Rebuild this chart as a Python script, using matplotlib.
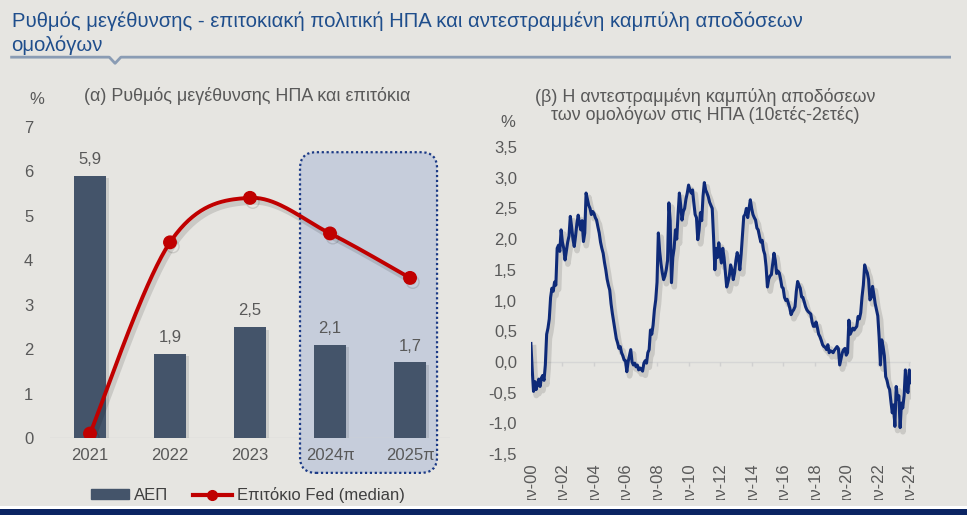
import numpy as np
import matplotlib
matplotlib.use("Agg")
import matplotlib.pyplot as plt
import matplotlib.patheffects as pe
from matplotlib.patches import FancyBboxPatch, Rectangle
from matplotlib.lines import Line2D
from matplotlib.ticker import FuncFormatter

plt.rcParams['font.family'] = ['Liberation Sans', 'DejaVu Sans']

# --- data: panel (a)
years = ["2021", "2022", "2023", "2024π", "2025π"]
gdp = [5.9, 1.9, 2.5, 2.1, 1.7]
fed_rate = [0.1, 4.4, 5.4, 4.6, 3.6]

# --- data: panel (b), monthly 10y-2y spread, Jan 2000 - Feb 2024
spread_2000 = [0.30, -0.12, -0.48, -0.32, -0.45, -0.36, -0.28, -0.40, -0.26, -0.22, -0.30, -0.05]
spread_2001 = [0.45, 0.55, 0.70, 1.05, 1.20, 1.15, 1.30, 1.25, 1.85, 1.90, 1.80, 2.15]
spread_2002 = [1.95, 1.85, 1.66, 1.80, 1.95, 2.05, 2.37, 2.20, 2.00, 1.88, 2.05, 2.25]
spread_2003 = [2.39, 2.25, 2.15, 2.30, 1.96, 2.10, 2.75, 2.65, 2.55, 2.50, 2.40, 2.45]
spread_2004 = [2.42, 2.35, 2.31, 2.20, 2.10, 1.95, 1.85, 1.77, 1.62, 1.50, 1.35, 1.25]
spread_2005 = [1.17, 0.95, 0.79, 0.65, 0.50, 0.38, 0.31, 0.22, 0.25, 0.15, 0.10, 0.03]
spread_2006 = [0.02, -0.16, 0.00, 0.10, 0.20, 0.00, -0.05, -0.02, -0.08, -0.05, -0.13, -0.10]
spread_2007 = [-0.12, -0.15, -0.02, 0.02, -0.02, 0.15, 0.20, 0.52, 0.45, 0.60, 0.85, 1.01]
spread_2008 = [1.30, 2.10, 1.80, 1.60, 1.45, 1.34, 1.40, 1.50, 1.65, 2.59, 2.30, 1.29]
spread_2009 = [1.70, 1.85, 2.15, 2.00, 2.40, 2.75, 2.55, 2.31, 2.45, 2.50, 2.65, 2.75]
spread_2010 = [2.88, 2.80, 2.75, 2.80, 2.59, 2.40, 2.35, 1.99, 2.15, 2.43, 2.30, 2.70]
spread_2011 = [2.92, 2.80, 2.75, 2.69, 2.60, 2.55, 2.50, 2.04, 1.50, 1.85, 1.70, 1.94]
spread_2012 = [1.75, 1.61, 1.85, 1.70, 1.45, 1.22, 1.30, 1.40, 1.58, 1.50, 1.34, 1.45]
spread_2013 = [1.65, 1.78, 1.70, 1.50, 1.75, 2.05, 2.37, 2.40, 2.50, 2.35, 2.50, 2.64]
spread_2014 = [2.50, 2.40, 2.35, 2.31, 2.18, 2.15, 2.04, 1.95, 1.98, 1.82, 1.75, 1.55]
spread_2015 = [1.22, 1.35, 1.40, 1.42, 1.60, 1.77, 1.65, 1.44, 1.48, 1.45, 1.35, 1.22]
spread_2016 = [1.20, 1.05, 1.00, 1.02, 0.95, 0.88, 0.77, 0.82, 0.85, 0.90, 1.15, 1.31]
spread_2017 = [1.25, 1.20, 1.06, 1.05, 0.98, 0.90, 0.85, 0.82, 0.80, 0.78, 0.65, 0.58]
spread_2018 = [0.58, 0.65, 0.56, 0.45, 0.41, 0.35, 0.28, 0.25, 0.24, 0.20, 0.28, 0.15]
spread_2019 = [0.18, 0.17, 0.15, 0.19, 0.22, 0.25, 0.22, -0.05, 0.05, 0.15, 0.20, 0.22]
spread_2020 = [0.11, 0.15, 0.68, 0.45, 0.50, 0.55, 0.52, 0.55, 0.58, 0.74, 0.70, 0.80]
spread_2021 = [1.06, 1.25, 1.58, 1.50, 1.45, 1.34, 1.01, 1.05, 1.23, 1.10, 0.95, 0.85]
spread_2022 = [0.75, 0.41, -0.05, 0.36, 0.25, 0.10, -0.24, -0.30, -0.40, -0.45, -0.65, -0.83]
spread_2023 = [-0.70, -1.05, -0.40, -0.60, -0.55, -1.07, -0.67, -0.75, -0.55, -0.13, -0.45, -0.50]
spread_2024 = [-0.13, -0.34]

spread = (spread_2000 + spread_2001 + spread_2002 + spread_2003 + spread_2004 + spread_2005
          + spread_2006 + spread_2007 + spread_2008 + spread_2009 + spread_2010 + spread_2011
          + spread_2012 + spread_2013 + spread_2014 + spread_2015 + spread_2016 + spread_2017
          + spread_2018 + spread_2019 + spread_2020 + spread_2021 + spread_2022 + spread_2023
          + spread_2024)
tick_years = list(range(2000, 2025, 2))
tick_labels = ["Ιαν-%02d" % (y % 100) for y in tick_years]

BG = '#E6E5E1'
BAR = '#44546A'
RED = '#C00000'
NAVY = '#0E2A78'
GREY_TXT = '#595959'
FS = 12


def smooth(xs, ys, n=40):
    # Excel-like smoothed line (Catmull-Rom as cubic bezier)
    x = np.asarray(xs, float)
    y = np.asarray(ys, float)
    px = np.concatenate([[x[0]], x, [x[-1]]])
    py = np.concatenate([[y[0]], y, [y[-1]]])
    out_x, out_y = [], []
    t = np.linspace(0, 1, n)
    for i in range(len(x) - 1):
        p0 = np.array([px[i + 1], py[i + 1]])
        p3 = np.array([px[i + 2], py[i + 2]])
        p1 = p0 + (np.array([px[i + 2], py[i + 2]]) - np.array([px[i], py[i]])) / 6
        p2 = p3 - (np.array([px[i + 3], py[i + 3]]) - np.array([px[i + 1], py[i + 1]])) / 6
        b = (((1 - t) ** 3)[:, None] * p0 + (3 * (1 - t) ** 2 * t)[:, None] * p1
             + (3 * (1 - t) * t ** 2)[:, None] * p2 + (t ** 3)[:, None] * p3)
        out_x.extend(b[:, 0])
        out_y.extend(b[:, 1])
    return out_x, out_y


fig = plt.figure(figsize=(9.67, 5.15), dpi=100, facecolor=BG)

# header
fig.text(0.012, 0.958, "Ρυθμός μεγέθυνσης - επιτοκιακή πολιτική ΗΠΑ και αντεστραμμένη καμπύλη αποδόσεων",
         fontsize=14.6, color='#1F4E8C', va='center')
fig.text(0.012, 0.913, "ομολόγων", fontsize=14.6, color='#1F4E8C', va='center')
fig.add_artist(Line2D([0.012, 0.113, 0.119, 0.125, 0.982], [0.889, 0.889, 0.877, 0.889, 0.889],
                      transform=fig.transFigure, color='#8A9CB4', lw=2))

# ---------------- panel (a)
ax1 = fig.add_axes([0.0517, 0.1495, 0.4137, 0.6045])
ax1.set_facecolor('none')
xpos = np.arange(len(years))
box = FancyBboxPatch((0.625, -0.112), 0.3425, 1.03, boxstyle="round,pad=0,rounding_size=0.04",
                     mutation_aspect=400 / 311.5, transform=ax1.transAxes, clip_on=False,
                     facecolor='#C6CDDB', edgecolor='#1B3A86', lw=1.6, ls=(0, (1, 1.2)), zorder=0.5)
ax1.add_patch(box)
bars = ax1.bar(xpos, gdp, width=0.4, color=BAR, zorder=2,
               path_effects=[pe.SimplePatchShadow(offset=(2, -2), alpha=0.12), pe.Normal()])
ax1.bar_label(bars, labels=[f"{v:.1f}".replace('.', ',') for v in gdp], padding=6,
              fontsize=FS, color=GREY_TXT)
sx, sy = smooth(xpos, fed_rate)
ax1.plot(sx, sy, color=RED, lw=2.8, zorder=3, solid_capstyle='round',
         path_effects=[pe.SimpleLineShadow(offset=(2, -3), alpha=0.12, linewidth=4), pe.Normal()])
ax1.plot(xpos, fed_rate, ls='none', marker='o', ms=9, color=RED, zorder=4,
         path_effects=[pe.SimpleLineShadow(offset=(2, -3), alpha=0.12), pe.Normal()])
ax1.axhline(0, color='#D3D3D3', lw=1, zorder=1)
ax1.set_xlim(-0.5, 4.5)
ax1.set_ylim(0, 7)
ax1.set_yticks(range(0, 8))
ax1.set_xticks(xpos)
ax1.set_xticklabels(years)
ax1.tick_params(axis='both', length=0, labelsize=FS, labelcolor=GREY_TXT)
ax1.tick_params(axis='y', pad=12)
ax1.tick_params(axis='x', pad=7)
for s in ax1.spines.values():
    s.set_visible(False)
fig.text(0.038, 0.806, "%", fontsize=FS, color=GREY_TXT, ha='center', va='center')
fig.text(0.256, 0.814, "(α) Ρυθμός μεγέθυνσης ΗΠΑ και επιτόκια", fontsize=12.9,
         color=GREY_TXT, ha='center', va='center')

handles = [Rectangle((0, 0), 1, 1, color=BAR),
           Line2D([], [], color=RED, lw=3, marker='o', ms=7)]
fig.legend(handles, ["ΑΕΠ", "Επιτόκιο Fed (median)"], loc='center', ncol=2,
           bbox_to_anchor=(0.256, 0.039), frameon=False, fontsize=FS, handlelength=2.3,
           handleheight=0.5, columnspacing=1.5, handletextpad=0.3, labelcolor='#404040')

# ---------------- panel (b)
ax2 = fig.add_axes([0.549, 0.1184, 0.393, 0.5962])
ax2.set_facecolor('none')
t = 2000 + np.arange(len(spread)) / 12
ax2.plot(t, spread, color=NAVY, lw=2.2, zorder=3,
         path_effects=[pe.SimpleLineShadow(offset=(2, -3), alpha=0.12, linewidth=4), pe.Normal()])
ax2.axhline(0, color='#D6D6D6', lw=1, zorder=1)
ax2.plot(tick_years, np.zeros(len(tick_years)), ls='none', marker=3, ms=3, color='#D0D0D0', zorder=1)
ax2.set_xlim(2000, 2024.1)
ax2.set_ylim(-1.5, 3.5)
ax2.set_yticks(np.arange(-1.5, 3.51, 0.5))
ax2.yaxis.set_major_formatter(FuncFormatter(lambda v, p: f"{v:.1f}".replace('.', ',')))
ax2.set_xticks(tick_years)
ax2.set_xticklabels(tick_labels, rotation=90, va='top')
ax2.tick_params(axis='both', length=0, labelsize=FS, labelcolor=GREY_TXT)
ax2.tick_params(axis='y', pad=10)
ax2.tick_params(axis='x', pad=6)
for s in ax2.spines.values():
    s.set_visible(False)
fig.text(0.525, 0.762, "%", fontsize=FS, color=GREY_TXT, ha='center', va='center')
fig.text(0.729, 0.812, "(β) Η αντεστραμμένη καμπύλη αποδόσεων", fontsize=12.9,
         color=GREY_TXT, ha='center', va='center')
fig.text(0.729, 0.777, "των ομολόγων στις ΗΠΑ (10ετές-2ετές)", fontsize=12.9,
         color=GREY_TXT, ha='center', va='center')

# bottom band: hides the lower part of the rotated date labels
fig.add_artist(Rectangle((0.5, 0.014), 0.5, 0.016, transform=fig.transFigure,
                         facecolor=BG, edgecolor='none', zorder=10))
fig.add_artist(Rectangle((0, 0.0117), 1, 0.0058, transform=fig.transFigure,
                         facecolor='white', edgecolor='none', zorder=11))
fig.add_artist(Rectangle((0, 0), 1, 0.0117, transform=fig.transFigure,
                         facecolor='#0B2463', edgecolor='none', zorder=11))

fig.savefig("out.png", dpi=100, facecolor=BG)
